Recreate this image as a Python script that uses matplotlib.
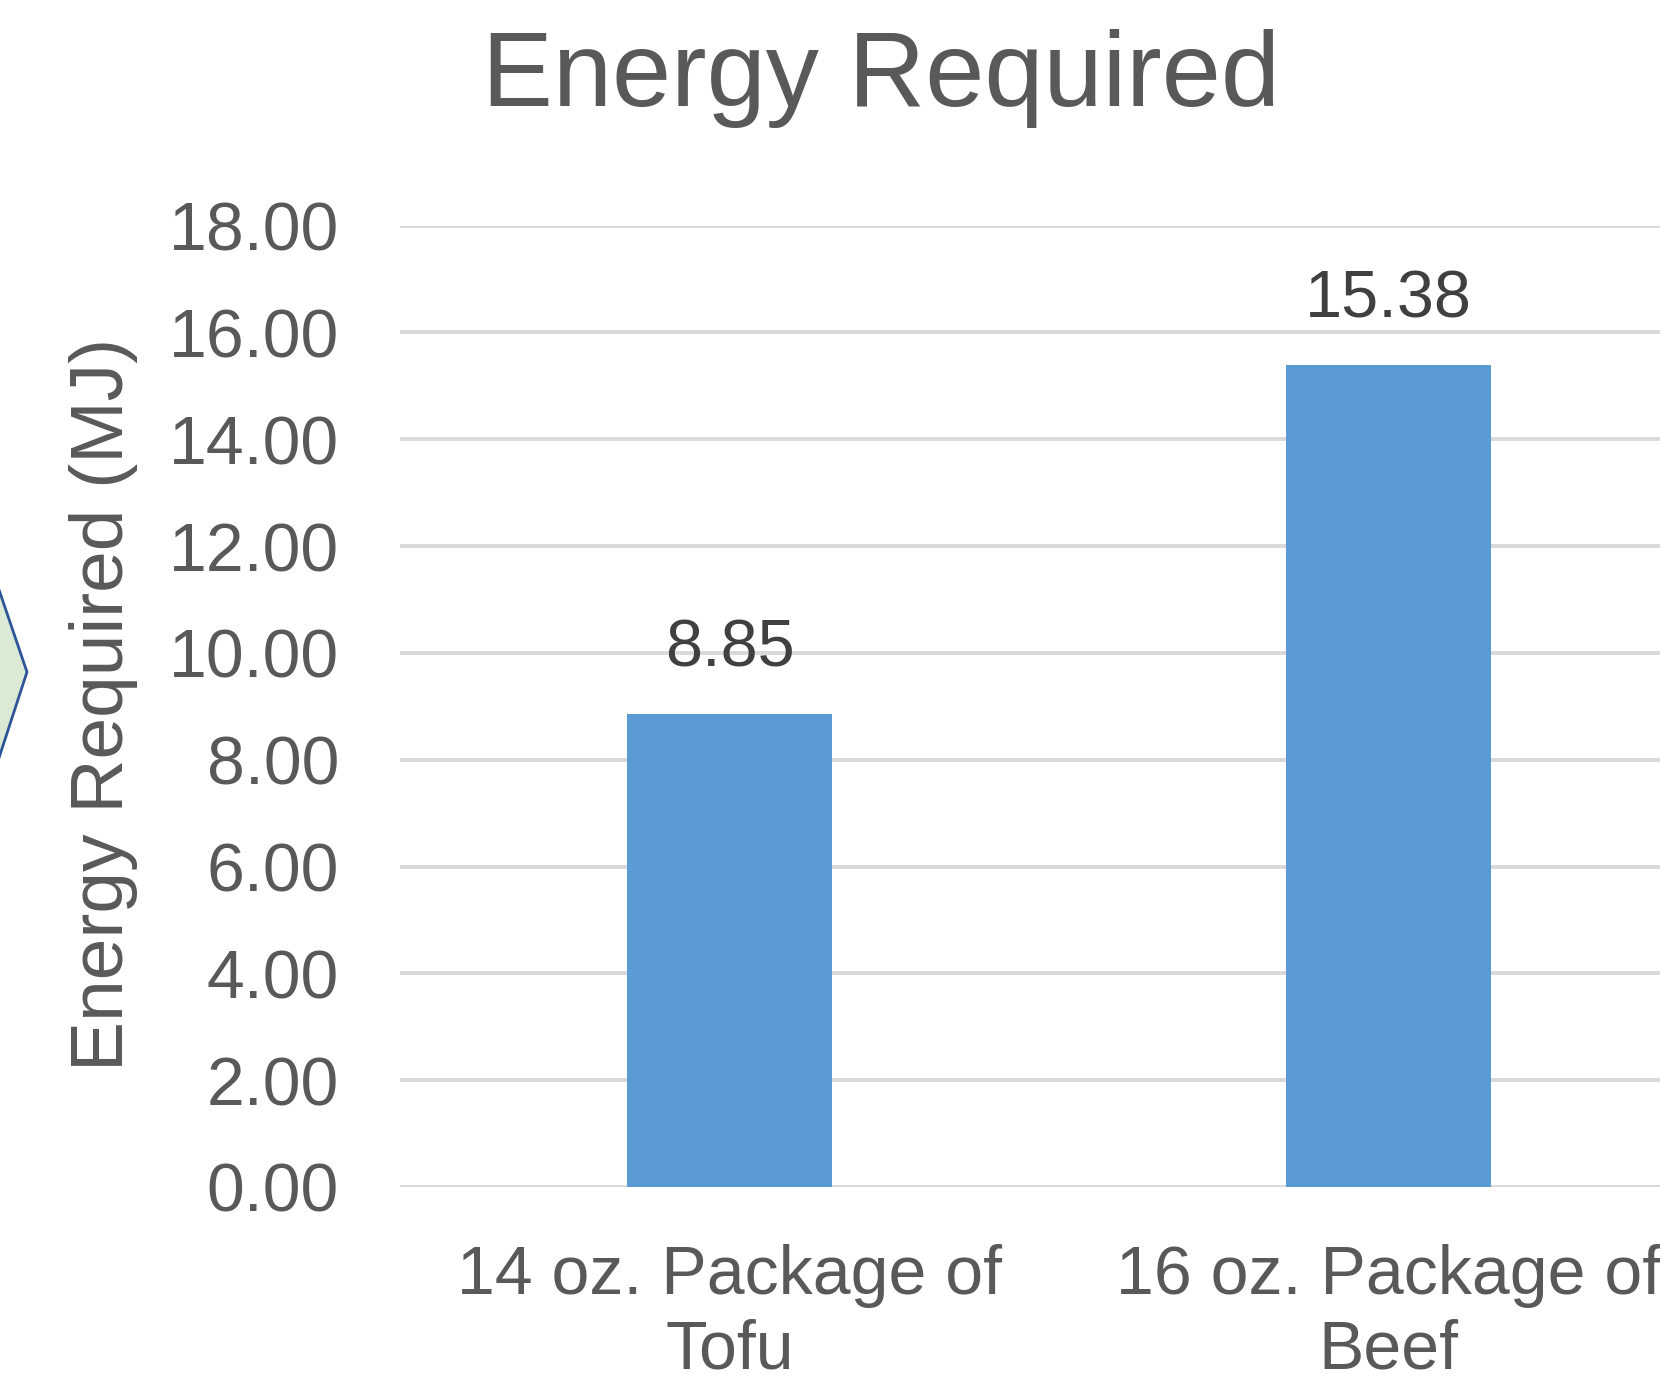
import matplotlib
matplotlib.use("Agg")
import matplotlib.pyplot as plt
from matplotlib.patches import Polygon

# Data
categories = ["14 oz. Package of\nTofu", "16 oz. Package of\nBeef"]
energy_mj = [8.85, 15.38]
y_ticks = [0, 2, 4, 6, 8, 10, 12, 14, 16, 18]

W, H = 1660, 1393
DPI = 100
plt.rcParams["font.family"] = ["Liberation Sans", "DejaVu Sans"]

fig = plt.figure(figsize=(W / DPI, H / DPI), dpi=DPI)
fig.patch.set_facecolor("white")

def fx(px):
    return px / W

def fy(py):
    return 1 - py / H

# Plot area: categories are 659 px wide, the last one runs off the right edge
left_px, top_px, bottom_px = 400, 225.5, 1187
ax = fig.add_axes([fx(left_px), fy(bottom_px), fx(W - left_px), (bottom_px - top_px) / H])
cat_px = 659
ax.set_xlim(-0.5, -0.5 + (W - left_px) / cat_px)
ax.set_ylim(0, 18)

bar_color = "#5B9BD5"
x = list(range(len(categories)))
ax.bar(x, energy_mj, width=0.311, color=bar_color, zorder=3)

# Value labels above the bars
for xi, v in zip(x, energy_mj):
    ax.annotate(f"{v:.2f}", (xi, v), xytext=(0, 34.5), textcoords="offset points",
                ha="center", va="baseline", fontsize=48, color="#404040", zorder=4)

# Axes styling
for s in ax.spines.values():
    s.set_visible(False)
ax.set_yticks(y_ticks)
ax.set_yticklabels([f"{t:.2f}" for t in y_ticks])
ax.yaxis.grid(True, color="#D9D9D9", linewidth=2.8, zorder=0)
ax.set_axisbelow(True)
ax.tick_params(axis="y", length=0, pad=44, labelsize=49, labelcolor="#595959")
ax.set_xticks(x)
ax.set_xticklabels(categories)
ax.tick_params(axis="x", length=0, pad=41, labelsize=49, labelcolor="#595959")
for lbl in ax.get_xticklabels():
    lbl.set_linespacing(1.22)
    lbl.set_clip_on(False)

# Axis title
fig.text(fx(104), fy(704), "Energy Required (MJ)", rotation=90, ha="center", va="center",
         fontsize=54, color="#595959")

# Chart title
fig.text(fx(881), fy(106), "Energy Required", ha="center", va="baseline",
         fontsize=76.5, color="#595959")

# Chevron shape at the left edge
pts = [(-20, 534), (27, 672), (-20, 816)]
chev = Polygon([(fx(px), fy(py)) for px, py in pts], closed=True,
               transform=fig.transFigure, facecolor="#DAEAD5", edgecolor="#2E5597",
               linewidth=2.0, zorder=1)
fig.patches.append(chev)

fig.savefig("out.png", dpi=DPI, facecolor="white")
